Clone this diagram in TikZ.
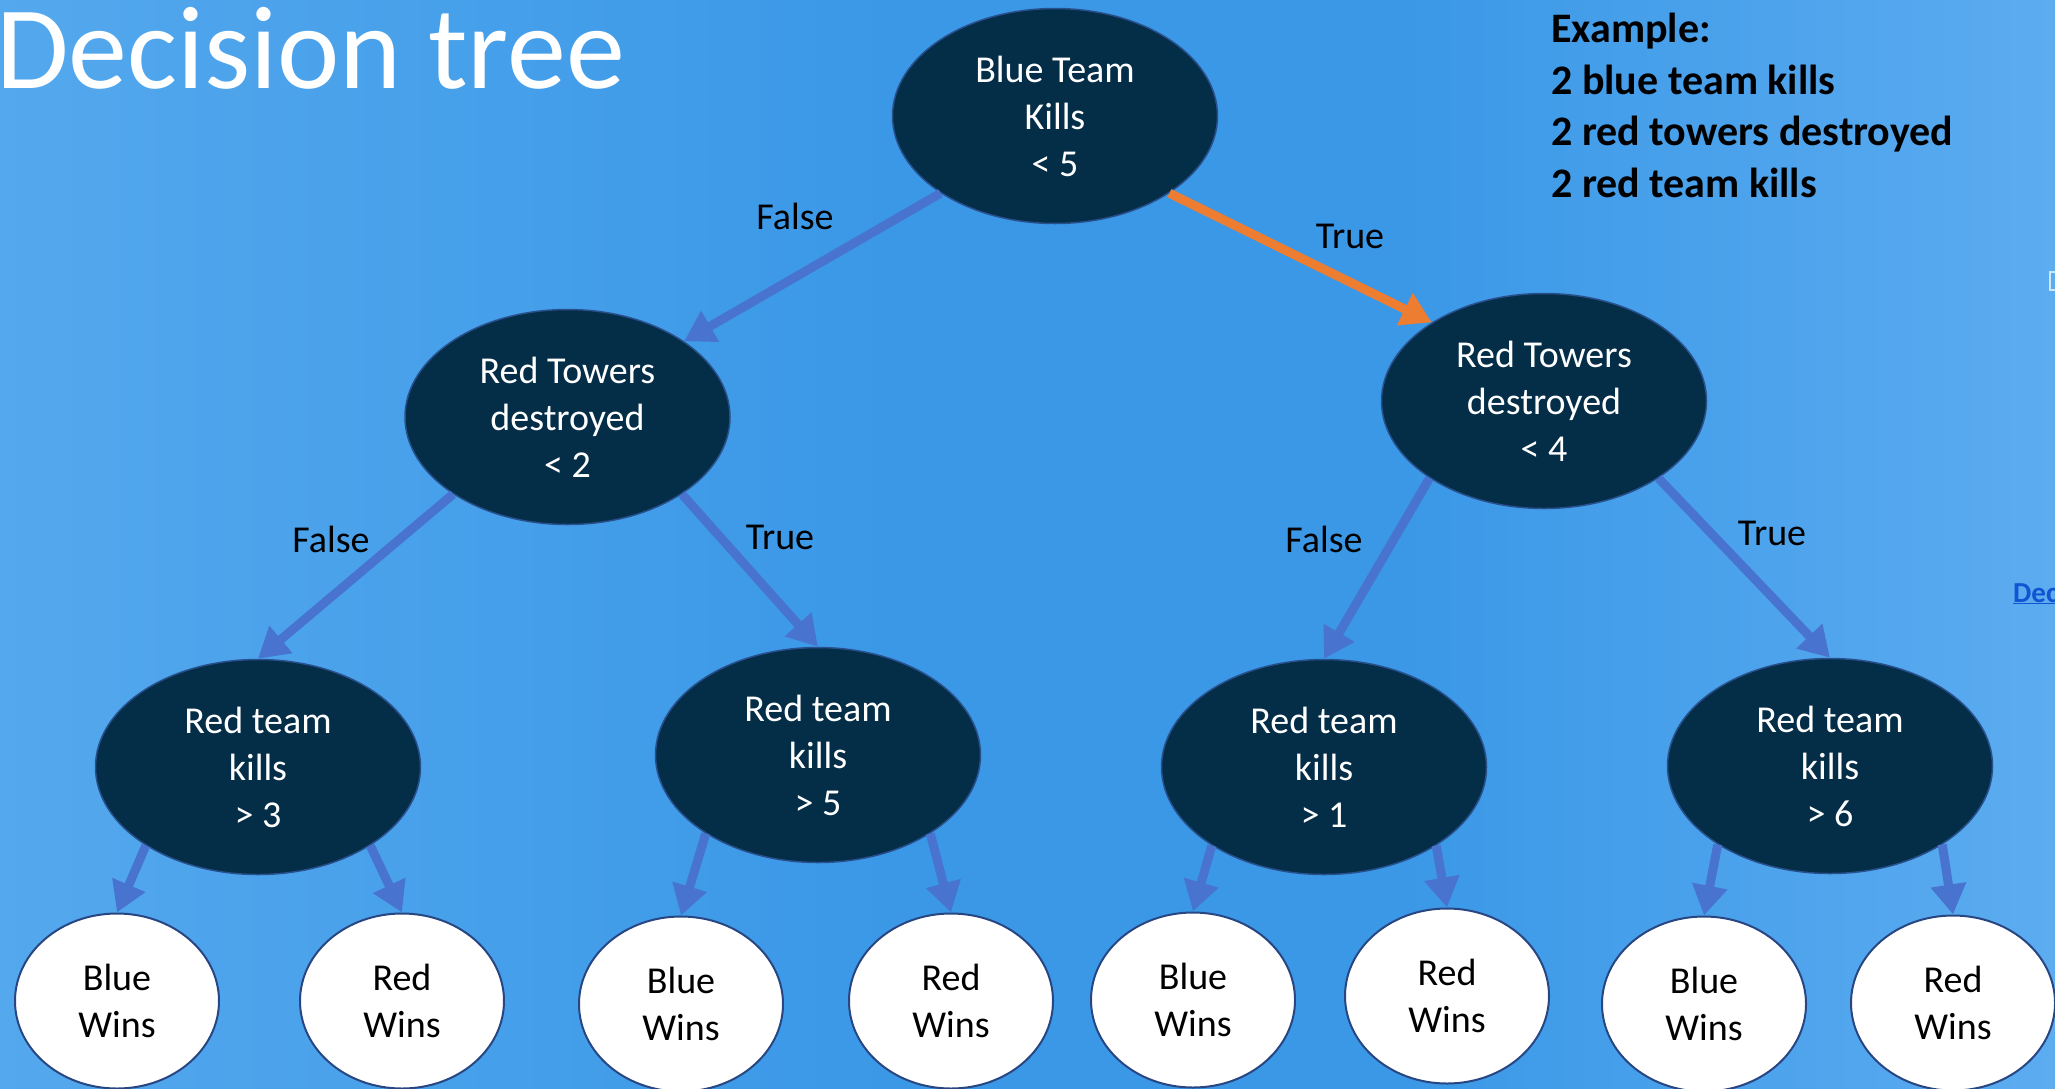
\documentclass[tikz,border=0pt]{standalone}
\usepackage{fontspec}
\setmainfont{Carlito}
\usetikzlibrary{shapes.geometric,arrows.meta}
\definecolor{bgL}{RGB}{84,168,237}
\definecolor{bgM}{RGB}{58,152,231}
\definecolor{bgR}{RGB}{92,172,240}
\definecolor{navy}{RGB}{4,45,72}
\definecolor{navyedge}{RGB}{40,80,140}
\definecolor{arrowblue}{RGB}{72,116,208}
\definecolor{arroworange}{RGB}{237,125,49}
\definecolor{leafedge}{RGB}{40,70,130}
\definecolor{linkblue}{RGB}{18,84,210}
\begin{document}
\begin{tikzpicture}[x=1pt,y=-1pt,
  decision/.style={ellipse, fill=navy, draw=navyedge, line width=1.5pt,
    minimum width=325pt, minimum height=215pt, inner sep=0pt, text=white,
    align=center, font=\fontsize{38}{47}\selectfont},
  leaf/.style={ellipse, fill=white, draw=leafedge, line width=2pt,
    minimum width=204pt, minimum height=175pt, inner sep=0pt, text=black,
    align=center, font=\fontsize{38}{47}\selectfont},
  conn/.style={draw=arrowblue, line width=9pt, -{Triangle[length=30pt,width=34pt]}},
  chosen/.style={conn, draw=arroworange},
  lbl/.style={text=black, font=\fontsize{38}{47}\selectfont, inner sep=0pt}
]
\useasboundingbox (0,0) rectangle (2055,1088);
\begin{scope}
\clip (-3,-3) rectangle (2058,1091);
\shade[left color=bgL, right color=bgM] (-3,-3) rectangle (901,1091);
\fill[bgM] (900,-3) rectangle (1401,1091);
\shade[left color=bgM, right color=bgR] (1400,-3) rectangle (2058,1091);
\end{scope}
\clip (0,0) rectangle (2055,1088);

% title and example
\node[anchor=base west, inner sep=0pt, text=white, font=\fontsize{118}{122}\selectfont] (title) at (-4,88) {Decision tree};
\node[anchor=north west, align=left, inner sep=0pt, text=black,
  font=\bfseries\fontsize{42}{51.5}\selectfont] (example) at (1551,13)
  {Example:\\2 blue team kills\\2 red towers destroyed\\2 red team kills};
\node[anchor=base west, inner sep=0pt, text=linkblue, font=\bfseries\fontsize{29}{33}\selectfont] (dec) at (2013,602) {\underline{Dec}};
\draw[draw=white!70!bgR, line width=1.5pt] (2050,272) rectangle (2064,290);

% decision nodes
\node[decision] (root) at (1055,116) {Blue Team\\Kills\\< 5};
\node[decision] (tl) at (567.5,417) {Red Towers\\destroyed\\< 2};
\node[decision] (tr) at (1544,401) {Red Towers\\destroyed\\< 4};
\node[decision] (a) at (258,767) {Red team\\kills\\> 3};
\node[decision] (b) at (818,755) {Red team\\kills\\> 5};
\node[decision] (c) at (1324,767) {Red team\\kills\\> 1};
\node[decision] (d) at (1830,766) {Red team\\kills\\> 6};

% leaves
\node[leaf] (l1) at (117,1001) {Blue\\Wins};
\node[leaf] (l2) at (402,1001) {Red\\Wins};
\node[leaf] (l3) at (681,1004) {Blue\\Wins};
\node[leaf] (l4) at (951,1001) {Red\\Wins};
\node[leaf] (l5) at (1193,1000) {Blue\\Wins};
\node[leaf] (l6) at (1447,996) {Red\\Wins};
\node[leaf] (l7) at (1704,1004) {Blue\\Wins};
\node[leaf] (l8) at (1953,1003) {Red\\Wins};

% connectors
\draw[conn] (root.214) -- (tl.33);
\draw[chosen] (root.326) -- (tr.145);
\draw[conn] (tl.214) -- (a.north);
\draw[conn] (tl.326) -- (b.north);
\draw[conn] (tr.214) -- (c.north);
\draw[conn] (tr.326) -- (d.north);
\draw[conn] (a.215) -- (l1.north);
\draw[conn] (a.325) -- (l2.north);
\draw[conn] (b.215) -- (l3.north);
\draw[conn] (b.325) -- (l4.north);
\draw[conn] (c.215) -- (l5.north);
\draw[conn] (c.325) -- (l6.north);
\draw[conn] (d.215) -- (l7.north);
\draw[conn] (d.325) -- (l8.north);

% edge labels
\node[lbl] (f1) at (795,216) {False};
\node[lbl] (t1) at (1350,236) {True};
\node[lbl] (f2) at (331,539) {False};
\node[lbl] (t2) at (780,537) {True};
\node[lbl] (f3) at (1324,539) {False};
\node[lbl] (t3) at (1772,533) {True};
\end{tikzpicture}
\end{document}
